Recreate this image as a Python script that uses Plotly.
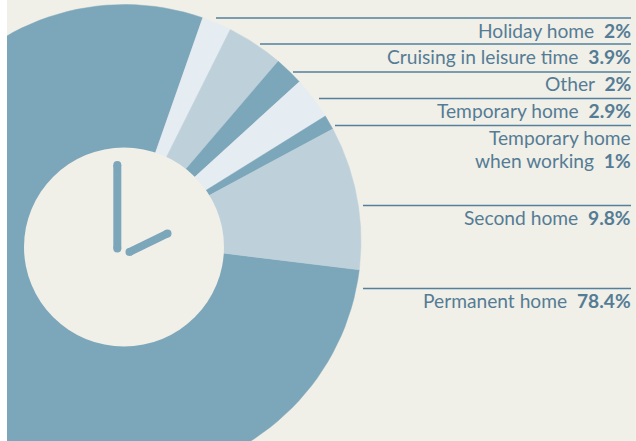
import numpy as np
import plotly.graph_objects as go

categories = ["Permanent home", "Holiday home", "Cruising in leisure time", "Other",
              "Temporary home", "Temporary home|when working", "Second home"]
shares = [78.4, 2, 3.9, 2, 2.9, 1, 9.8]
share_labels = ["78.4%", "2%", "3.9%", "2%", "2.9%", "1%", "9.8%"]

slice_colors = ["#7ca6b9", "#e5ecf2", "#bed1db", "#7ca6b9", "#e5ecf2", "#7ca6b9", "#bed1db"]
label_y = [[300.5], [30.5], [56.5], [83.5], [110.5], [137.5, 160], [217.5]]
rule_y = [288.5, 18, 44, 72, 98.5, 125.5, 205.5]
rule_x0 = [363, 216, 260, 293, 319, 335, 363]

BG = "#f0efe8"
TXT = "#557c95"
RULE = "#54809c"
FONT = "Lato"
CX, CY, R = 124.5, 241, 236.5
START = 97
total = sum(shares)

fig = go.Figure()
angle = START
for v, c in zip(shares, slice_colors):
    sweep = v / total * 360
    t = np.radians(np.linspace(angle, angle + sweep, 120))
    fig.add_trace(go.Scatter(
        x=np.r_[CX, CX + R * np.sin(t), CX], y=np.r_[CY, CY - R * np.cos(t), CY],
        mode="lines", fill="toself", fillcolor=c, line=dict(width=0.5, color=c),
        hoverinfo="skip", showlegend=False))
    angle += sweep

# clock face
fig.add_shape(type="circle", xref="x", yref="y", x0=24, x1=224, y0=147.5, y1=346.5,
              fillcolor=BG, line_width=0, layer="above")
# hands drawn above the face
hand_shapes = [((117.3, 117.3), (165, 248.5)), ((129.5, 167.5), (252, 233.5))]
for hx, hy in hand_shapes:
    fig.add_shape(type="line", xref="x", yref="y", x0=hx[0], x1=hx[1], y0=hy[0], y1=hy[1],
                  line=dict(color="#7ca6b9", width=8), layer="above")
    for px, py in zip(hx, hy):
        fig.add_shape(type="circle", xref="x", yref="y", x0=px - 4, x1=px + 4, y0=py - 4, y1=py + 4,
                      fillcolor="#7ca6b9", line_width=0, layer="above")

for x0, y in zip(rule_x0, rule_y):
    fig.add_trace(go.Scatter(x=[x0, 631], y=[y, y], mode="lines", line=dict(color=RULE, width=1.4),
                             hoverinfo="skip", showlegend=False))

for cat, lab, ys in zip(categories, share_labels, label_y):
    lines = cat.split("|")
    for i, (line, y) in enumerate(zip(lines, ys)):
        text = f"{line}&nbsp;&nbsp;<b>{lab}</b>" if i == len(lines) - 1 else line
        fig.add_annotation(x=630.5, y=y, xref="x", yref="y", xanchor="right", yanchor="middle", align="right",
                           text=text, showarrow=False,
                           font=dict(family=FONT, size=19.2, color=TXT), borderpad=0, borderwidth=0)

fig.update_layout(width=636, height=441, margin=dict(l=0, r=0, t=0, b=0, pad=0),
                  paper_bgcolor="white", plot_bgcolor=BG, showlegend=False,
                  xaxis=dict(domain=[7 / 636, 1], range=[7, 636], visible=False),
                  yaxis=dict(domain=[0, 1], range=[441, 0], visible=False))
fig.write_html("out.html", config=dict(displayModeBar=False),
               post_script="document.body.style.margin='0';document.documentElement.style.overflow='hidden';")
